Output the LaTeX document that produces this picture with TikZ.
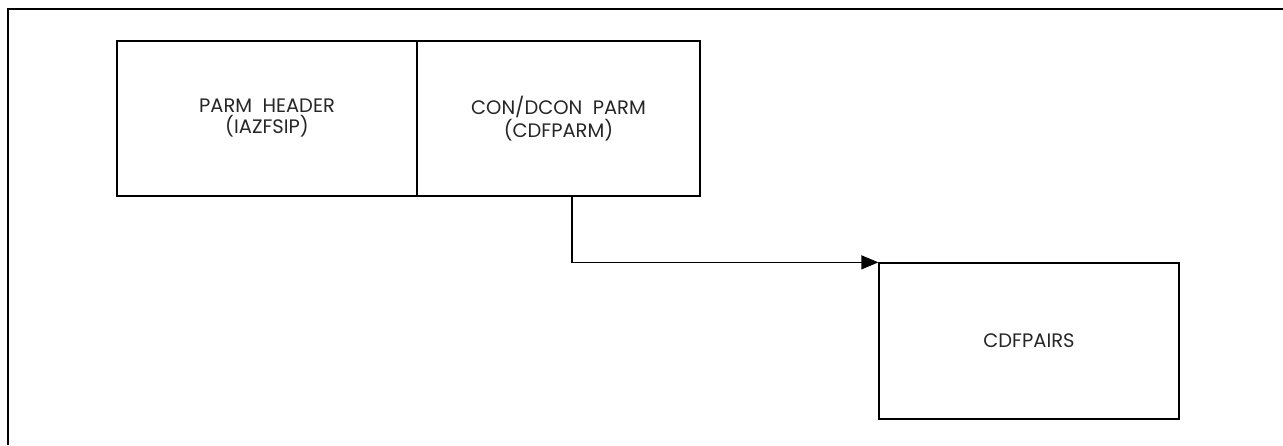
\documentclass[tikz,border=0pt]{standalone}
\usepackage{fontspec}
\setmainfont{Poppins}
\usetikzlibrary{positioning, arrows.meta}
\tikzset{
    record/.style={draw, line width=1.3pt, minimum height=155pt, inner sep=0pt,
        align=center, font=\fontsize{19.5}{21}\selectfont, text=black!85},
}

\begin{document}
\begin{tikzpicture}[x=1pt, y=-1pt]
            \useasboundingbox (0, 0) rectangle (1283, 445);
            \draw [line width=2pt] (8, 445) -- (8, 9) -- (1283, 9);

            \node [record, minimum width=300pt] (hdr) at (267, 118.5) {PARM\ \ HEADER\\(IAZFSIP)};
            \node [record, minimum width=283pt] (con) at (558.5, 118.5) {CON/DCON\ \ PARM\\(CDFPARM)};
            \node [record, minimum width=300pt, minimum height=156pt] (pairs) at (1029, 341) {CDFPAIRS};

            \draw [line width=1.3pt, -{Triangle[length=17pt, width=14pt]}] ([xshift=13.5pt]con.south) |- (pairs.north west);
        \end{tikzpicture}
\end{document}
